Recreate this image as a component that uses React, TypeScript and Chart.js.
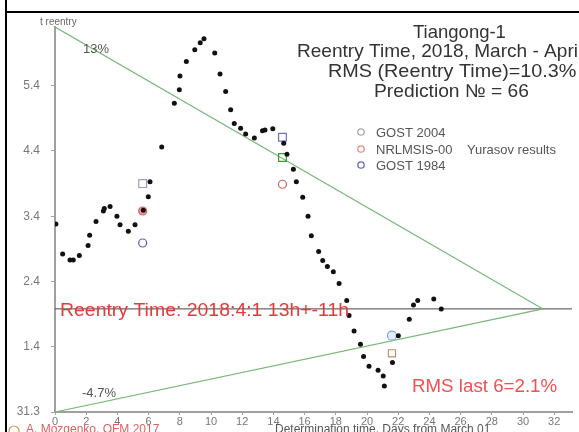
import React, { useEffect, useRef } from 'react';
import { Chart, registerables } from 'chart.js';

Chart.register(...registerables);

// Determination time, days from March 01
const predictionDays = [
  0.06, 0.49, 0.96, 1.17, 1.56, 2.12, 2.22, 2.63, 3.10, 3.16, 3.53, 3.97, 4.17, 4.70, 5.13, 5.66,
  5.98, 6.09, 6.84, 7.65, 7.97, 8.01, 8.42, 8.96, 9.31, 9.55, 10.24, 10.58, 10.94, 11.26, 11.49,
  11.90, 12.22, 12.78, 13.30, 13.46, 13.96, 14.66, 14.87, 15.28, 15.47, 15.88, 16.22, 16.43, 16.90,
  17.16, 17.46, 17.84, 18.21, 18.70, 18.85, 19.17, 19.58, 19.78, 20.13, 20.71, 21.04, 21.11, 21.63,
  22.01, 22.71, 22.98, 23.25, 24.28, 24.76,
];
// Predicted reentry time, days after the lowest tick (31.3)
const predictionValues = [
  2.88, 2.42, 2.33, 2.33, 2.40, 2.55, 2.71, 2.92, 3.08, 3.12, 3.15, 3.00, 2.87, 2.77, 2.87, 3.09,
  3.30, 3.53, 4.06, 4.73, 4.94, 5.15, 5.37, 5.55, 5.66, 5.72, 5.50, 5.18, 4.91, 4.63, 4.42,
  4.35, 4.26, 4.20, 4.31, 4.32, 4.34, 4.12, 3.95, 3.72, 3.53, 3.29, 3.00, 2.70, 2.46,
  2.32, 2.23, 2.15, 1.97, 1.71, 1.48, 1.24, 1.04, 0.85, 0.70, 0.64, 0.55, 0.40, 0.76,
  1.17, 1.42, 1.64, 1.71, 1.73, 1.58,
];

// Yurasov results
const gost2004Days = [5.62];
const gost2004Values = [3.5];
const nrlmsisDays = [5.62, 14.58];
const nrlmsisValues = [3.08, 3.49];
const gost1984Days = [5.62];
const gost1984Values = [2.59];
const gost1984SqDays = [14.58];
const gost1984SqValues = [4.21];
const greenDays = [14.58];
const greenValues = [3.9];
const lightBlueDays = [21.6];
const lightBlueValues = [1.17];
const brownDays = [21.6];
const brownValues = [0.9];

// Corridor lines
const corridorDays = [0, 31.28];
const upperValues = [5.9, 1.58];
const lowerValues = [0, 1.58];
const reentryLineDays = [0, 33.14];
const reentryLineValues = [1.58, 1.58];

const yTickValues = [0, 1, 2, 3, 4, 5];
const yTickLabels = ['31.3', '1.4', '2.4', '3.4', '4.4', '5.4'];
const xTickValues = [0, 2, 4, 6, 8, 10, 12, 14, 16, 18, 20, 22, 24, 26, 28, 30, 32];

const FONT = '"Liberation Sans", Arial, sans-serif';

const pts = (xs: number[], ys: number[]) => xs.map((x, i) => ({ x, y: ys[i] }));

const stretchText = (ctx: CanvasRenderingContext2D, text: string, x: number, y: number, sx: number) => {
  ctx.save();
  ctx.translate(x, y);
  ctx.scale(sx, 1);
  ctx.fillText(text, 0, 0);
  ctx.restore();
};

const overlay = {
  id: 'overlay',
  afterDraw(chart: any) {
    const ctx = chart.ctx as CanvasRenderingContext2D;
    ctx.save();
    // frame
    ctx.fillStyle = '#000';
    ctx.fillRect(5, 0, 2, 432);
    ctx.fillRect(5, 11, 574, 2);

    ctx.textBaseline = 'alphabetic';
    ctx.textAlign = 'left';
    // titles
    ctx.fillStyle = '#333';
    ctx.font = `18.5px ${FONT}`;
    ctx.fillText('Tiangong-1', 413, 38);
    stretchText(ctx, 'Reentry Time, 2018, March - April', 297, 57, 1.03);
    stretchText(ctx, 'RMS (Reentry Time)=10.3%', 328, 77, 1.07);
    stretchText(ctx, 'Prediction \u2116 = 66', 374, 97, 1.04);

    // legend
    const leg = [
      { c: '#aaa', t: 'GOST 2004', y: 137 },
      { c: '#e88', t: 'NRLMSIS-00    Yurasov results', y: 154 },
      { c: '#66c', t: 'GOST 1984', y: 170 },
    ];
    ctx.font = `13px ${FONT}`;
    leg.forEach((l) => {
      ctx.strokeStyle = l.c;
      ctx.lineWidth = 1.3;
      ctx.beginPath();
      ctx.arc(361, l.y - 5, 3.2, 0, Math.PI * 2);
      ctx.stroke();
      ctx.fillStyle = '#555';
      ctx.fillText(l.t, 376, l.y);
    });

    // axis annotations
    ctx.fillStyle = '#666';
    ctx.font = `10px ${FONT}`;
    ctx.fillText('t reentry', 40, 25);
    ctx.font = `13px ${FONT}`;
    ctx.fillStyle = '#555';
    ctx.fillText('13%', 83, 53);
    ctx.fillText('-4.7%', 82, 397);

    // red annotations
    ctx.fillStyle = '#e43a3a';
    ctx.font = `18px ${FONT}`;
    stretchText(ctx, 'Reentry Time: 2018:4:1 13h+-11h', 60, 316, 1.08);
    ctx.fillStyle = '#f05050';
    ctx.font = `17.5px ${FONT}`;
    stretchText(ctx, 'RMS last 6=2.1%', 412, 392, 1.07);

    // bottom strip texts (cut by the picture edge)
    ctx.strokeStyle = '#c9a040';
    ctx.lineWidth = 1.2;
    ctx.beginPath();
    ctx.arc(14, 431, 5, 0, Math.PI * 2);
    ctx.stroke();
    ctx.textBaseline = 'top';
    ctx.font = `12px ${FONT}`;
    ctx.fillStyle = '#e06060';
    ctx.fillText('A. Mozgenko, OFM 2017', 26, 424);
    ctx.fillStyle = '#555';
    ctx.fillText('Determination time, Days from March 01', 275, 424);
    ctx.restore();
  },
};

export default function App() {
  const ref = useRef<HTMLCanvasElement>(null);
  useEffect(() => {
    if (!ref.current) return;
    const chart = new Chart(ref.current, {
      type: 'scatter',
      data: {
        datasets: [
          {
            label: 'Predictions',
            data: pts(predictionDays, predictionValues),
            backgroundColor: '#111',
            borderColor: '#111',
            pointRadius: 2.5,
            borderWidth: 0,
            order: 0,
          },
          {
            label: 'GOST 2004',
            data: pts(gost2004Days, gost2004Values),
            pointStyle: 'rect',
            pointRadius: 5.5,
            backgroundColor: 'rgba(0,0,0,0)',
            borderColor: '#9aa0b8',
            borderWidth: 1.2,
            order: 1,
          },
          {
            label: 'NRLMSIS-00',
            data: pts(nrlmsisDays, nrlmsisValues),
            pointStyle: 'circle',
            pointRadius: 4,
            backgroundColor: ['rgba(220,80,80,0.55)', 'rgba(0,0,0,0)'],
            borderColor: '#d86060',
            borderWidth: 1.2,
            order: 1,
          },
          {
            label: 'GOST 1984',
            data: pts(gost1984Days, gost1984Values),
            pointStyle: 'circle',
            pointRadius: 4,
            backgroundColor: 'rgba(0,0,0,0)',
            borderColor: '#5858c8',
            borderWidth: 1.2,
            order: 1,
          },
          {
            label: 'GOST 1984 sq',
            data: pts(gost1984SqDays, gost1984SqValues),
            pointStyle: 'rect',
            pointRadius: 5.5,
            backgroundColor: 'rgba(0,0,0,0)',
            borderColor: '#7070c8',
            borderWidth: 1.2,
            order: 1,
          },
          {
            label: 'green',
            data: pts(greenDays, greenValues),
            pointStyle: 'rect',
            pointRadius: 5.5,
            backgroundColor: 'rgba(0,0,0,0)',
            borderColor: '#3a9a3a',
            borderWidth: 1.2,
            order: 1,
          },
          {
            label: 'light blue',
            data: pts(lightBlueDays, lightBlueValues),
            pointStyle: 'circle',
            pointRadius: 4.5,
            backgroundColor: 'rgba(200,220,240,0.5)',
            borderColor: '#7aa8d8',
            borderWidth: 1.2,
            order: 1,
          },
          {
            label: 'brown',
            data: pts(brownDays, brownValues),
            pointStyle: 'rect',
            pointRadius: 5,
            backgroundColor: 'rgba(0,0,0,0)',
            borderColor: '#b89070',
            borderWidth: 1.2,
            order: 1,
          },
          {
            label: 'upper',
            type: 'line',
            data: pts(corridorDays, upperValues),
            borderColor: '#78b878',
            borderWidth: 1.2,
            pointRadius: 0,
            order: 5,
          } as any,
          {
            label: 'lower',
            type: 'line',
            data: pts(corridorDays, lowerValues),
            borderColor: '#78b878',
            borderWidth: 1.2,
            pointRadius: 0,
            order: 5,
          } as any,
          {
            label: 'reentry',
            type: 'line',
            data: pts(reentryLineDays, reentryLineValues),
            borderColor: '#444',
            borderWidth: 1,
            pointRadius: 0,
            order: 5,
          } as any,
        ],
      },
      options: {
        animation: false,
        responsive: false,
        devicePixelRatio: 1,
        layout: { padding: { top: 27, left: 0, right: 7, bottom: 0 } },
        plugins: { legend: { display: false }, tooltip: { enabled: false }, title: { display: false } },
        scales: {
          x: {
            type: 'linear',
            min: 0,
            max: 33.14,
            afterFit: (s: any) => { s.height = 20; },
            afterBuildTicks: (s: any) => { s.ticks = xTickValues.map((v) => ({ value: v })); },
            border: { color: '#a0a0a0', width: 2 },
            grid: { drawOnChartArea: false, drawTicks: true, tickLength: 3, color: '#a0a0a0' },
            ticks: {
              color: '#777',
              font: { family: FONT, size: 11 },
              padding: 0,
              maxRotation: 0,
              autoSkip: false,
              callback: (v: any) => String(v),
            },
          },
          y: {
            type: 'linear',
            min: 0,
            max: 5.9,
            afterFit: (s: any) => { s.width = 55; },
            afterBuildTicks: (s: any) => { s.ticks = yTickValues.map((v) => ({ value: v })); },
            border: { color: '#a0a0a0', width: 2 },
            grid: { drawOnChartArea: false, drawTicks: true, tickLength: 4, color: '#a0a0a0' },
            ticks: {
              color: '#777',
              font: { family: FONT, size: 12 },
              padding: 11,
              autoSkip: false,
              callback: (v: any) => yTickLabels[yTickValues.indexOf(Number(v))] ?? '',
            },
          },
        },
      },
      plugins: [overlay],
    } as any);
    return () => chart.destroy();
  }, []);
  return (
    <div style={{ position: 'fixed', left: 0, top: 0, width: 579, height: 432, background: '#fff' }}>
      <canvas ref={ref} width={579} height={432} style={{ width: 579, height: 432, display: 'block' }} />
    </div>
  );
}
